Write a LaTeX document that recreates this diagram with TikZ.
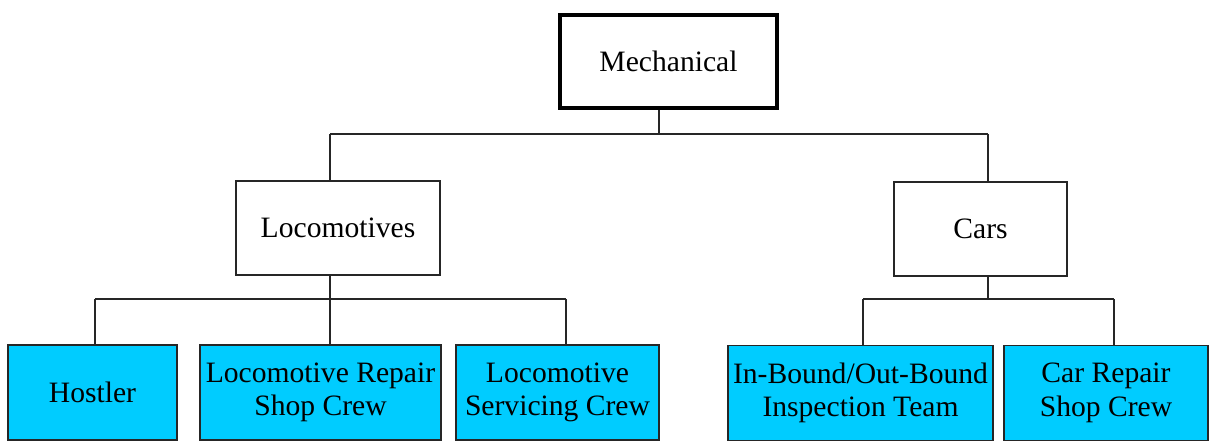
\documentclass[tikz,border=0pt]{standalone}
\usepackage{fontspec}
\setmainfont{Liberation Serif}
\definecolor{leafblue}{RGB}{0,204,255}
\tikzset{
  x=0.75pt, y=-0.75pt,
  every node/.style={font=\fontsize{22.2}{25}\selectfont, align=center, inner sep=0pt},
  topbox/.style={draw=black, line width=2.3pt, fill=white},
  midbox/.style={draw=black!85, line width=0.9pt, fill=white},
  leaf/.style={draw=black!85, line width=0.9pt, fill=leafblue},
  conn/.style={draw=black!85, line width=1pt},
}
\begin{document}
\begin{tikzpicture}
\useasboundingbox (0,0) rectangle (1209,445);
% top
\node[topbox, minimum width=217*0.75pt, minimum height=93*0.75pt] (mech) at (668.5,61.5) {Mechanical};
% middle
\node[midbox, minimum width=204*0.75pt, minimum height=94*0.75pt] (loco) at (338,228) {Locomotives};
\node[midbox, minimum width=173*0.75pt, minimum height=94*0.75pt] (cars) at (980.5,229) {Cars};
% leaves
\node[leaf, minimum width=169*0.75pt, minimum height=95*0.75pt] (host) at (92.5,392.5) {Hostler};
\node[leaf, minimum width=241*0.75pt, minimum height=95*0.75pt] (lrep) at (320.5,392.5) {Locomotive Repair\\Shop Crew};
\node[leaf, minimum width=203*0.75pt, minimum height=95*0.75pt] (lserv) at (557.5,392.5) {Locomotive\\Servicing Crew};
\node[leaf, minimum width=265*0.75pt, minimum height=95*0.75pt] (inb) at (860.5,393) {In-Bound/Out-Bound\\Inspection Team};
\node[leaf, minimum width=204*0.75pt, minimum height=95*0.75pt] (crep) at (1106,393) {Car Repair\\Shop Crew};
% bus coordinates
\coordinate (mb) at (659,134);
\coordinate (lb) at (330,134);
\coordinate (cb) at (988,134);
\coordinate (lb2) at (330,299);
\coordinate (hb) at (95,299);
\coordinate (sb) at (566,299);
\coordinate (cb2) at (988,299);
\coordinate (ib) at (863,299);
\coordinate (rb) at (1114,299);
% level 1 connectors
\draw[conn] (mech.south -| mb) -- (mb);
\draw[conn] (lb) -- (cb);
\draw[conn] (lb) -- (lb |- loco.north);
\draw[conn] (cb) -- (cb |- cars.north);
% locomotives connectors
\draw[conn] (loco.south -| lb2) -- (lb2);
\draw[conn] (hb) -- (sb);
\draw[conn] (hb) -- (hb |- host.north);
\draw[conn] (lb2) -- (lb2 |- lrep.north);
\draw[conn] (sb) -- (sb |- lserv.north);
% cars connectors
\draw[conn] (cars.south -| cb2) -- (cb2);
\draw[conn] (ib) -- (rb);
\draw[conn] (ib) -- (ib |- inb.north);
\draw[conn] (rb) -- (rb |- crep.north);
\end{tikzpicture}
\end{document}
